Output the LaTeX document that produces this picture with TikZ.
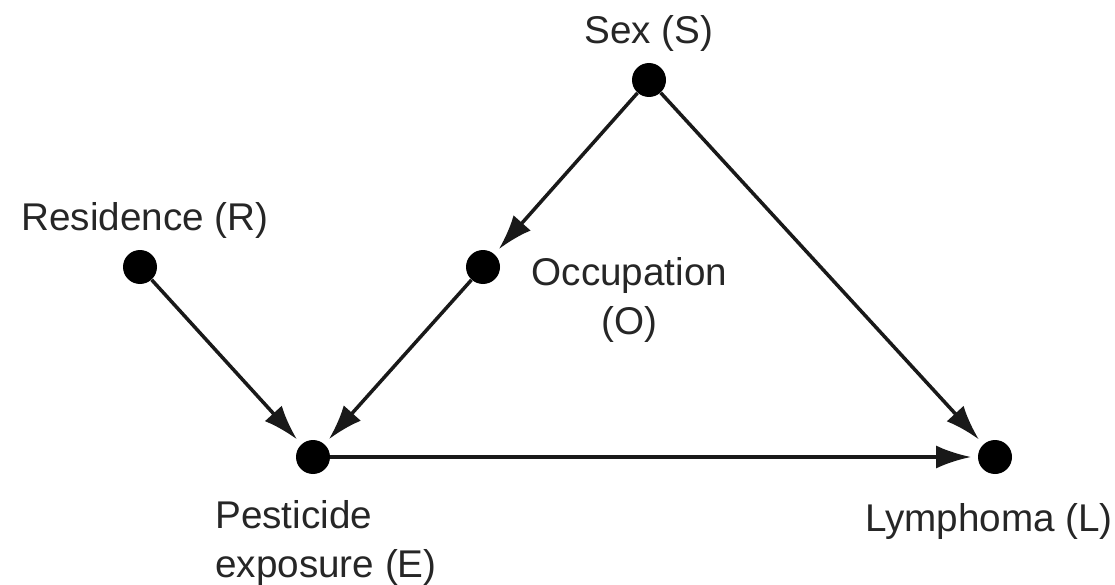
\documentclass[tikz,border=0pt]{standalone}
\usepackage{fontspec}
\setmainfont{Liberation Sans}
\usepackage{tikz}
\usetikzlibrary{arrows.meta, positioning}
\tikzset{
    dot/.style={circle, fill=black, minimum size=0.68cm, inner sep=0pt},
    lbl/.style={font={\fontsize{22pt}{27.9pt}\selectfont}, inner sep=0pt, text=black!85},
    arr/.style={-{Latex[length=0.7cm, width=0.46cm]}, line width=2pt, draw=black!90, shorten >=0.13cm},
}

\begin{document}
\begin{tikzpicture}
\useasboundingbox (0,0) rectangle (22.3,11.68);
% Sex
\node[dot] (sex) at (12.98,10.08) {};
\node[lbl, above=0.22cm of sex] (sexlbl) {Sex (S)};
% Residence
\node[dot] (res) at (2.80,6.34) {};
\node[lbl, above=0.22cm of res, xshift=0.1cm] (reslbl) {Residence (R)};
% Occupation
\node[dot] (occ) at (9.66,6.34) {};
\node[lbl, align=center, right=0.62cm of occ, yshift=-0.66cm] (occlbl) {Occupation\\(O)};
% Pesticide exposure
\node[dot] (exp) at (6.26,2.54) {};
\node[lbl, align=left, below=0.52cm of exp, xshift=0.26cm] (explbl) {Pesticide\\exposure (E)};
% Lymphoma
\node[dot] (lym) at (19.90,2.54) {};
\node[lbl, below=0.57cm of lym, xshift=-0.12cm] (lymlbl) {Lymphoma (L)};

% causal arrows
\draw[arr] (sex) -- (occ);
\draw[arr] (sex) -- (lym);
\draw[arr] (res) -- (exp);
\draw[arr] (occ) -- (exp);
\draw[arr] (exp) -- (lym);
\end{tikzpicture}
\end{document}
